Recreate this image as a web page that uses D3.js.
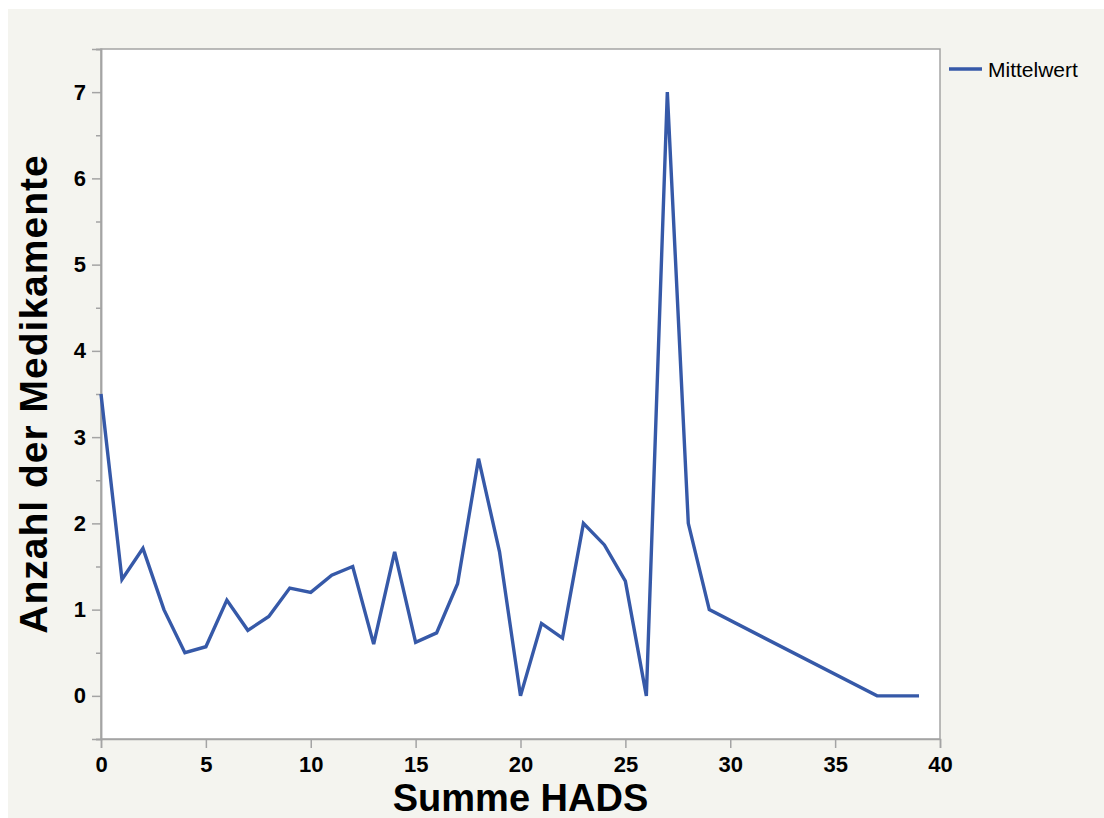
<!DOCTYPE html>
<html>
<head>
<meta charset="utf-8">
<script src="https://cdn.jsdelivr.net/npm/d3@7"></script>
<style>
  body { margin: 0; background: #fff; }
  svg { display: block; }
  text { font-family: "Liberation Sans", Arial, Helvetica, sans-serif; }
</style>
</head>
<body>
<div id="chart"></div>
<script>
// Summe HADS vs. mean number of medications
const hads = [0, 1, 2, 3, 4, 5, 6, 7, 8, 9, 10, 11, 12, 13, 14, 15, 16, 17, 18, 19,
  20, 21, 22, 23, 24, 25, 26, 27, 28, 29, 37, 39];
const mittelwert = [3.5, 1.35, 1.71, 1.0, 0.5, 0.57, 1.11, 0.76, 0.92, 1.25, 1.2, 1.4, 1.5,
  0.6, 1.67, 0.62, 0.73, 1.3, 2.75, 1.67, 0.0, 0.84, 0.67, 2.0, 1.75, 1.33, 0.0, 7.0,
  2.0, 1.0, 0.0, 0.0];
const xTicks = [0, 5, 10, 15, 20, 25, 30, 35, 40];
const yTicks = [0, 1, 2, 3, 4, 5, 6, 7];
const yMinorTicks = [-0.5, 0.5, 1.5, 2.5, 3.5, 4.5, 5.5, 6.5, 7.5];
const seriesName = 'Mittelwert';
const xTitle = 'Summe HADS';
const yTitle = 'Anzahl der Medikamente';

const W = 1104, H = 818;
const margin = { top: 49, right: 164, bottom: 79, left: 101 };
const width = W - margin.left - margin.right;
const height = H - margin.top - margin.bottom;
const lineColor = '#3659a8';
const axisColor = '#a4a4a4';

const svg = d3.select('#chart').append('svg')
  .attr('width', W)
  .attr('height', H);

// beige panel behind everything
svg.append('rect')
  .attr('x', 8).attr('y', 9)
  .attr('width', W - 8).attr('height', H - 9)
  .attr('fill', '#f4f4ef');

const g = svg.append('g')
  .attr('transform', `translate(${margin.left},${margin.top})`);

const x = d3.scaleLinear().domain([0, 40]).range([0, width]);
const y = d3.scaleLinear().domain([-0.5, 7.5]).range([height, 0]);

g.append('rect')
  .attr('width', width).attr('height', height)
  .attr('fill', '#fff')
  .attr('stroke', axisColor).attr('stroke-width', 1.5);

// x axis
g.append('g')
  .attr('transform', `translate(0,${height})`)
  .call(d3.axisBottom(x).tickValues(xTicks).tickSize(9).tickPadding(8).tickFormat(d3.format('d')));
// y axis minor
g.append('g')
  .call(d3.axisLeft(y).tickValues(yMinorTicks).tickSize(5).tickFormat(''));
g.append('g')
  .call(d3.axisLeft(y).tickValues(yTicks).tickSize(9).tickPadding(6).tickFormat(d3.format('d')));

g.selectAll('.domain').attr('stroke', axisColor).attr('stroke-width', 1.5);
g.selectAll('.tick line').attr('stroke', axisColor).attr('stroke-width', 1.5);
g.selectAll('.tick text')
  .attr('fill', '#000')
  .style('font-size', '22px')
  .style('font-weight', 'bold');

// line
const line = d3.line()
  .x((d, i) => x(hads[i]))
  .y(d => y(d));

g.append('path')
  .datum(mittelwert)
  .attr('fill', 'none')
  .attr('stroke', lineColor)
  .attr('stroke-width', 3.4)
  .attr('stroke-linejoin', 'miter')
  .attr('d', line);

// axis titles
g.append('text')
  .attr('x', width / 2)
  .attr('y', height + 72)
  .attr('text-anchor', 'middle')
  .style('font-size', '38px')
  .style('font-weight', 'bold')
  .text(xTitle);

g.append('text')
  .attr('transform', 'rotate(-90)')
  .attr('x', -height / 2)
  .attr('y', -54)
  .attr('text-anchor', 'middle')
  .style('font-size', '39px')
  .style('font-weight', 'bold')
  .style('letter-spacing', '1px')
  .text(yTitle);

// legend
const legend = svg.append('g')
  .attr('transform', `translate(${margin.left + width + 9},69)`);
legend.append('line')
  .attr('x1', 0).attr('x2', 33)
  .attr('stroke', lineColor).attr('stroke-width', 3.5);
legend.append('text')
  .attr('x', 39).attr('y', 8)
  .style('font-size', '21px')
  .text(seriesName);
</script>
</body>
</html>
